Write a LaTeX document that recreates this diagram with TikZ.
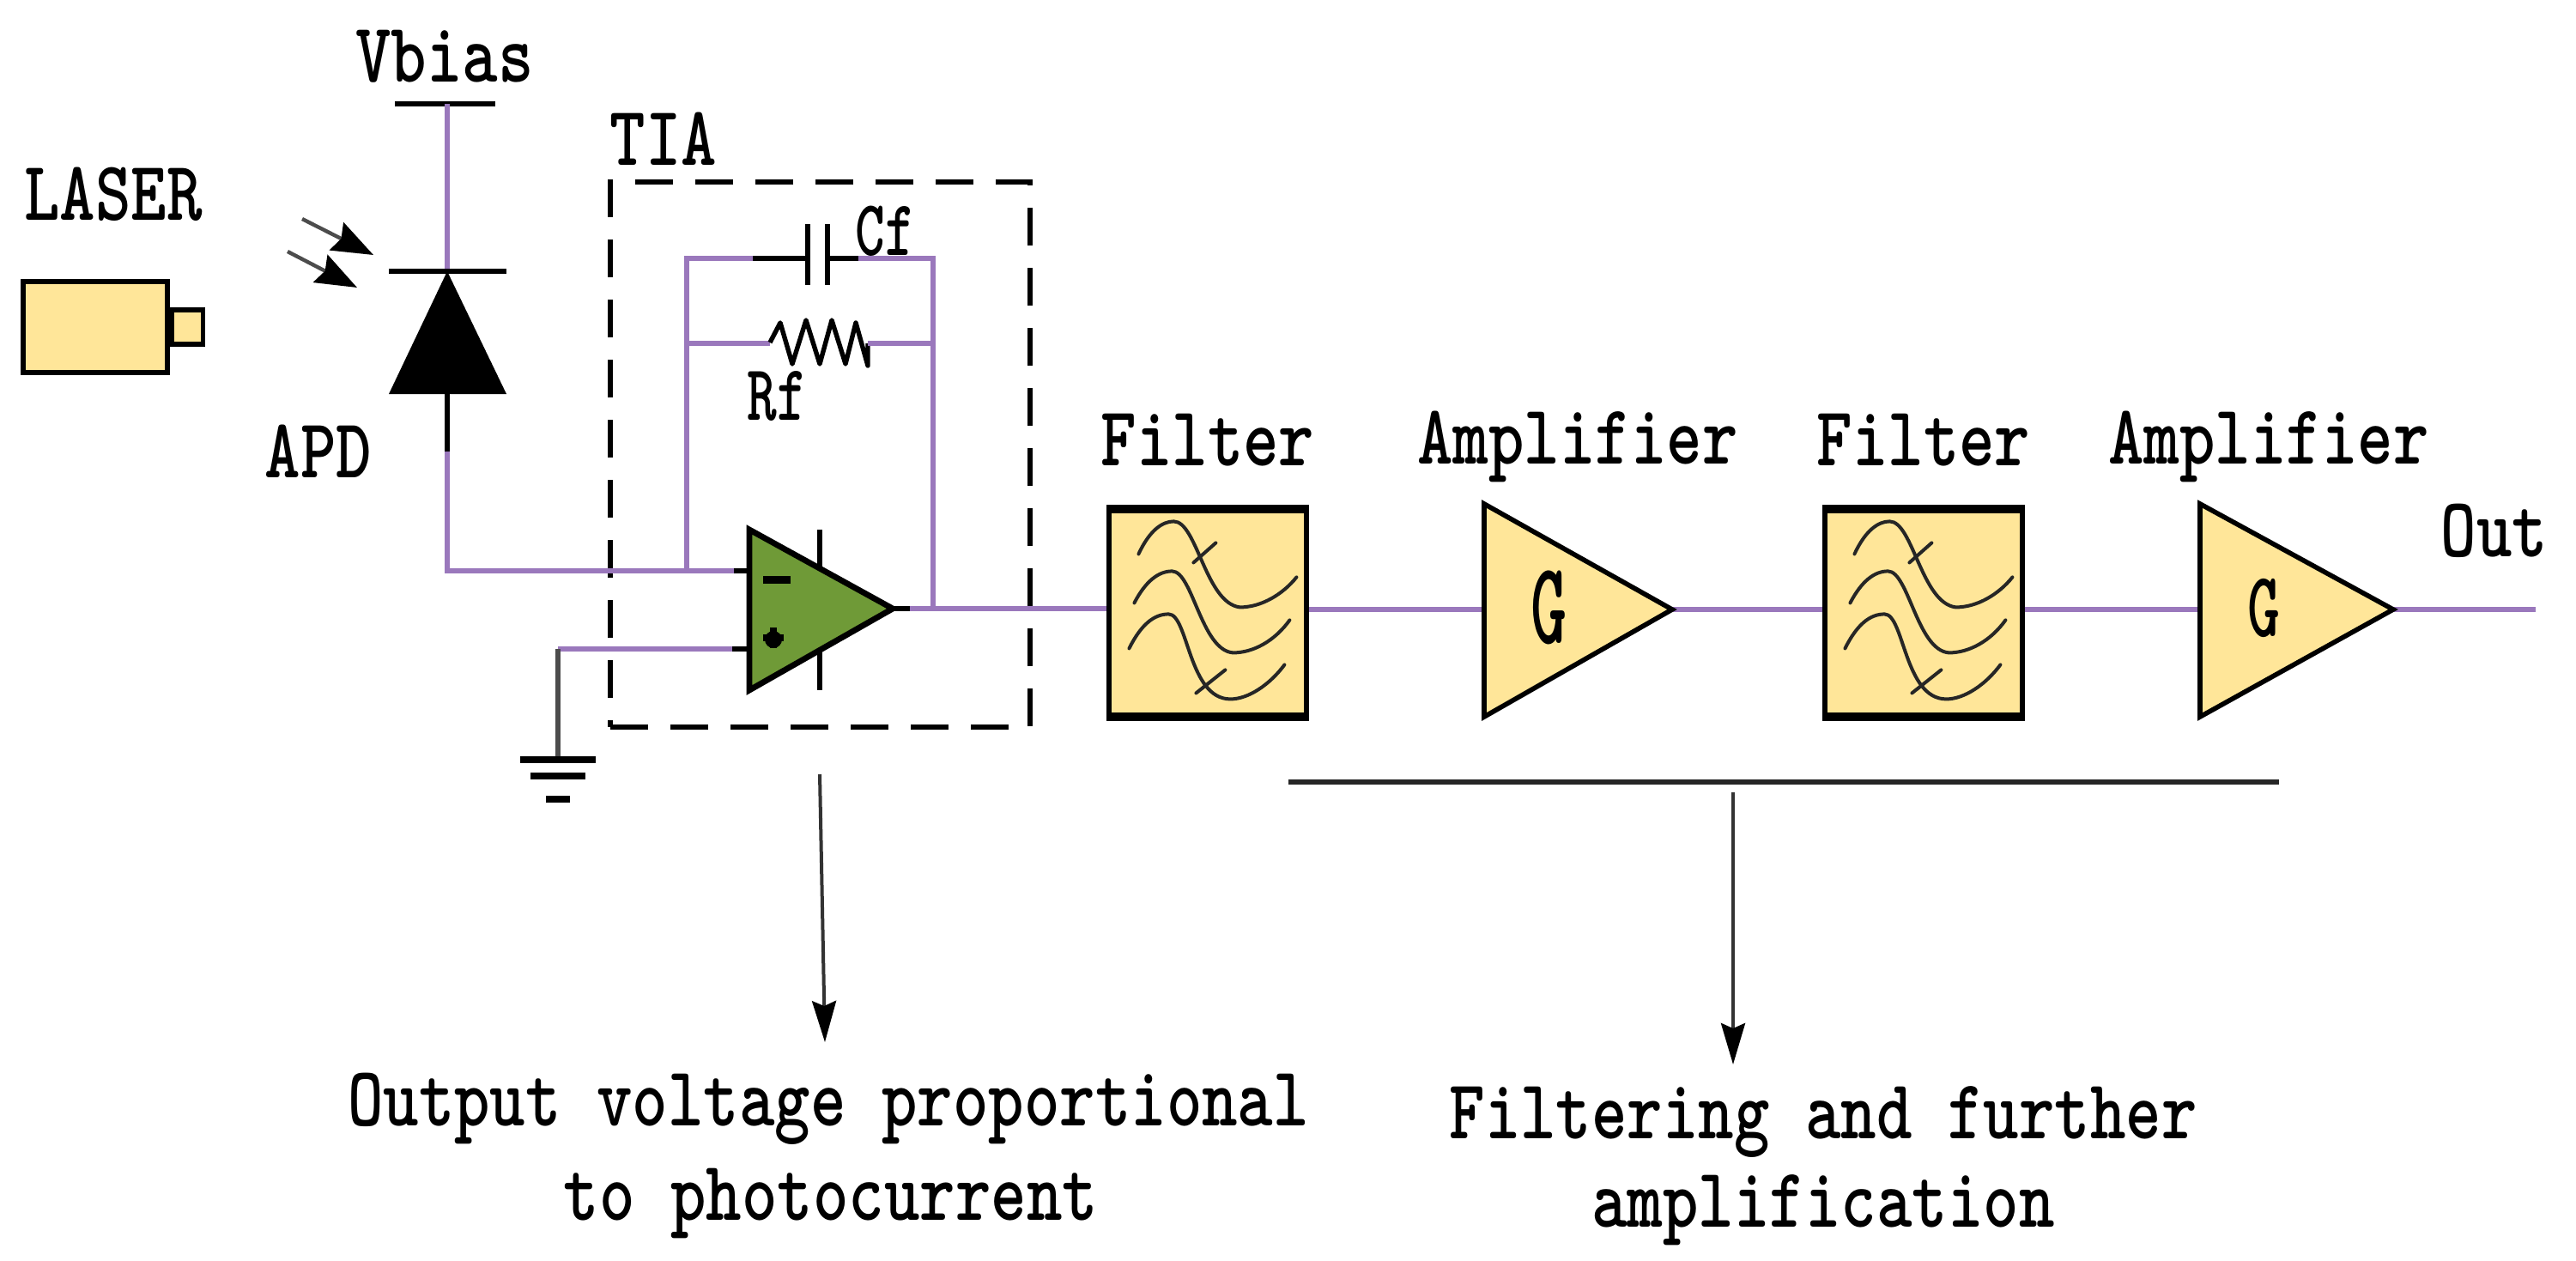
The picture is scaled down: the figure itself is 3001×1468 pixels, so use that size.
\documentclass[tikz,border=0pt]{standalone}
\usetikzlibrary{arrows.meta,calc}
\definecolor{wirec}{HTML}{9A78BC}
\definecolor{yel}{HTML}{FFE699}
\definecolor{grn}{HTML}{6F9A37}
\newcommand{\lab}[1]{\scalebox{1}[1.25]{\fontsize{39.5}{40}\selectfont\ttfamily\bfseries #1}}
\newcommand{\labs}[1]{\scalebox{1}[1.4]{\fontsize{33}{34}\selectfont\ttfamily\bfseries #1}}
\tikzset{
  wire/.style={draw=wirec,line width=2.7pt},
  lead/.style={draw=black,line width=2.7pt},
  body/.style={draw=black,line width=2.8pt,fill=yel,line join=miter},
  txt/.style={inner sep=0pt,outer sep=0pt,align=center},
  curve/.style={draw=black!85,line width=2pt,line cap=round},
  pointer/.style={draw=black!80,line width=2pt,-{Stealth[length=24pt,width=14pt,inset=3pt,color=black]}},
  photon/.style={draw=black!70,line width=2.2pt,-{Stealth[length=24pt,width=18pt,inset=3pt,color=black]}},
}
\newcommand{\filtbox}[2]{%
  \node[draw=black,line width=2.6pt,fill=yel,minimum width=115pt,minimum height=119pt,inner sep=0pt] (#1) at (#2) {};
  \draw[black,line width=4.5pt] (#1.north west) -- (#1.north east);
  \draw[black,line width=4.5pt] (#1.south west) -- (#1.south east);
  \begin{scope}[shift={(#1.north west)}]
    \draw[curve] (37,53) .. controls (50,25) and (65,15) .. (78,15) .. controls (105,15) and (115,110) .. (155,115) .. controls (180,115) and (205,100) .. (221,80);
    \draw[curve] (32,110) .. controls (45,85) and (60,73) .. (76,73) .. controls (100,73) and (110,165) .. (147,168) .. controls (170,168) and (195,155) .. (213,130);
    \draw[curve] (26,163) .. controls (40,135) and (55,123) .. (72,123) .. controls (95,123) and (95,222) .. (144,222) .. controls (165,222) and (190,205) .. (207,182);
    \draw[curve] (101,63) -- (127,40);
    \draw[curve] (104,215) -- (138,188);
  \end{scope}
}
\begin{document}
\begin{tikzpicture}[x=0.5pt,y=-0.5pt]
\useasboundingbox (0,0) rectangle (3001,1468);
% labels
\node[txt] (tvb) at (518,66) {\lab{Vbias}};
\node[txt] (tla) at (132,226) {\lab{LASER}};
\node[txt] (tti) at (773,162) {\lab{TIA}};
\node[txt] (tap) at (371,526) {\lab{APD}};
\node[txt] (tcf) at (1031,269) {\labs{Cf}};
\node[txt] (trf) at (905,461) {\labs{Rf}};
\node[txt] (tf1) at (1407,513) {\lab{Filter}};
\node[txt] (ta1) at (1838,520) {\lab{Amplifier}};
\node[txt] (tf2) at (2241,513) {\lab{Filter}};
\node[txt] (ta2) at (2643,520) {\lab{Amplifier}};
\node[txt] (tou) at (2906,618) {\lab{Out}};
\node[txt] (to1) at (965,1292) {\lab{Output voltage proportional}};
\node[txt] (to2) at (968,1402) {\lab{to photocurrent}};
\node[txt] (tg1) at (2124,1307) {\lab{Filtering and further}};
\node[txt] (tg2) at (2124,1410) {\lab{amplification}};
% laser
\node[body,minimum width=84pt,minimum height=53pt,inner sep=0pt] (las) at (111,381) {};
\node[body,minimum width=18pt,minimum height=20pt,inner sep=0pt,anchor=west] (lasb) at (las.east) {};
% coordinates
\coordinate (vb) at (521,121);
\coordinate (dk) at (521,316);
\coordinate (dl) at (521,459);
\coordinate (dm) at (521,526);
\coordinate (jc) at (521,665);
\coordinate (j1) at (800,665);
\coordinate (in1) at (855,665);
\coordinate (oa1) at (873,617);
\coordinate (oa2) at (873,804);
\coordinate (oa3) at (1040,709);
\coordinate (ou) at (1060,709);
\coordinate (fb) at (1087,709);
\coordinate (tl) at (800,301);
\coordinate (tr) at (1087,301);
\coordinate (rl) at (800,400);
\coordinate (rr) at (1087,400);
\coordinate (gt) at (650,756);
\coordinate (in2) at (853,756);
\coordinate (gb) at (650,885);
% vbias and diode
\draw[lead] (460,121) -- (577,121);
\draw[wire] (vb) -- (dk);
\draw[lead] (453,316) -- (590,316);
\fill[black] (dk) -- (590,459) -- (453,459) -- cycle;
\draw[lead] (dl) -- (dm);
\draw[wire,line join=miter] (dm) -- (jc) -- (in1);
\draw[lead] (in1) -- (873,665);
\draw[photon] (352,255) -- (435,297);
\draw[photon] (335,293) -- (416,335);
% dashed box
\draw[black,line width=2.6pt,dash pattern=on 22pt off 13pt] (711,847) -- (1200,847) -- (1200,212) -- (711,212) -- cycle;
% feedback
\draw[wire] (jc) -- (in1);
\draw[wire] (j1) -- (tl) -- (877,301);
\draw[lead] (877,301) -- (941,301);
\draw[lead] (941,261) -- (941,332);
\draw[lead] (964,261) -- (964,332);
\draw[lead] (964,301) -- (1000,301);
\draw[wire] (1000,301) -- (tr) -- (fb);
\draw[wire] (rl) -- (897,400);
\draw[lead,line join=round] (897,399) -- (909,376) -- (923,424) -- (939,373) -- (955,424) -- (969,373) -- (985,424) -- (997,376) -- (1011,426) -- (1011,400);
\draw[wire] (1011,400) -- (rr);
% opamp
\draw[lead] (955,617) -- (955,804);
\draw[black,line width=3.4pt,fill=grn,line join=miter] (oa1) -- (oa3) -- (oa2) -- cycle;
\draw[lead] (955,617) -- (955,650);
\draw[lead] (955,772) -- (955,804);
\draw[black,line width=4.5pt] (889,675) -- (921,675);
\draw[black,line width=4pt] (889,743) -- (913,743);
\draw[black,line width=4pt] (901,731) -- (901,755);
\fill[black] (901,745) circle (10);
\draw[lead] (oa3) -- (ou);
\draw[wire] (gt) -- (in2);
\draw[lead] (in2) -- (873,756);
\draw[draw=black!70,line width=2.8pt] (gt) -- (gb);
\draw[black,line width=4pt] (606,885) -- (694,885);
\draw[black,line width=4pt] (618,904) -- (682,904);
\draw[black,line width=4pt] (636,931) -- (664,931);
% signal path
\filtbox{f1}{1407,714}
\filtbox{f2}{2241,714}
\coordinate (a1a) at (1729,587);
\coordinate (a1b) at (1729,835);
\coordinate (a1c) at (1948,710);
\coordinate (a2a) at (2563,587);
\coordinate (a2b) at (2563,835);
\coordinate (a2c) at (2788,710);
\coordinate (end) at (2954,710);
\draw[wire] (ou) -- (f1.west |- ou);
\draw[wire] (f1.east |- a1c) -- (a1a |- a1c);
\draw[wire] (a1c) -- (f2.west |- a1c);
\draw[wire] (f2.east |- a1c) -- (a2a |- a1c);
\draw[wire] (a2c) -- (end);
\draw[body] (a1a) -- (a1c) -- (a1b) -- cycle;
\draw[body] (a2a) -- (a2c) -- (a2b) -- cycle;
\node[txt] (g1) at (1804,708) {\scalebox{1}[1.7]{\fontsize{40}{40}\selectfont\ttfamily\bfseries G}};
\node[txt] (g2) at (2637,708) {\scalebox{1}[1.5]{\fontsize{36}{36}\selectfont\ttfamily\bfseries G}};
% pointers
\coordinate (p1a) at (955,902);
\coordinate (p1b) at (961,1214);
\coordinate (p2a) at (2019,923);
\coordinate (p2b) at (2019,1240);
\draw[black!85,line width=2.6pt] (1501,911) -- (2655,911);
\draw[pointer] (p1a) -- (p1b);
\draw[pointer] (p2a) -- (p2b);
\end{tikzpicture}
\end{document}
